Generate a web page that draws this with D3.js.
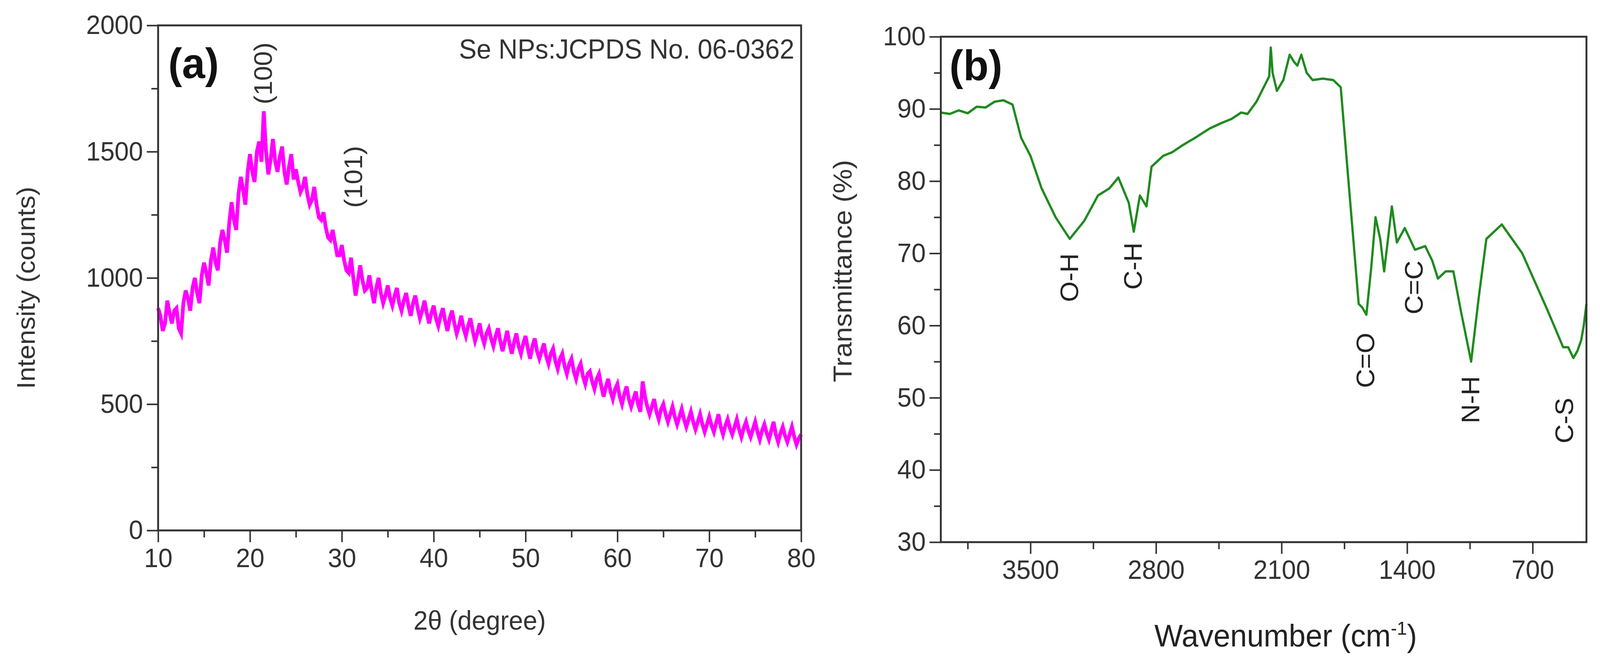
<!DOCTYPE html>
<html><head><meta charset="utf-8">
<script src="https://cdn.jsdelivr.net/npm/d3@7"></script>
<style>html,body{margin:0;background:#fff;overflow:hidden;width:100%;height:100%}svg{display:block;width:100vw;height:100vh}text{font-family:"Liberation Sans",Arial,sans-serif}</style>
</head><body>
<svg id="c" viewBox="0 0 4250 1700" preserveAspectRatio="none"></svg>
<script>
// ---- Panel (a) XRD: values at 10, 10.5, ... 80 and at 10.25, 10.75, ... 79.75
const xrdStart = 10, xrdStep = 0.5;
const xrdCounts = [880,790,910,820,880,780,950,870,1000,900,1060,970,1120,1030,1190,1100,1300,1190,1400,1290,
1490,1380,1540,1660,1410,1550,1420,1520,1370,1490,1430,1340,1400,1290,1360,1240,1260,1160,1190,1090,
1130,1030,1080,930,1050,950,1010,900,1000,900,970,890,960,870,940,850,930,840,910,820,
890,810,880,790,870,780,850,770,840,750,820,740,800,730,800,710,790,700,780,700,
770,680,760,680,740,660,720,640,700,620,680,600,660,580,630,560,620,530,600,520,
580,500,570,490,550,470,530,460,520,440,500,430,490,420,480,410,470,400,460,390,
450,390,460,380,440,380,440,370,430,370,430,360,420,360,430,350,410,350,410,340,380];
const xrdCountsMid = [850,820,860,870,800,900,920,960,940,1010,1020,1070,1060,1140,1150,1220,1230,1330,1350,1420,
1420,1500,1460,1500,1470,1460,1480,1420,1440,1390,1380,1360,1330,1310,1290,1230,1200,1150,1140,1090,
1070,1020,1000,990,990,960,950,960,940,930,920,930,900,910,890,900,880,870,860,860,
840,850,830,840,820,810,800,810,790,780,770,780,760,770,750,750,740,745,730,740,
720,730,710,710,690,700,670,680,650,660,630,640,610,620,590,600,570,570,550,560,
530,540,520,520,500,590,490,490,470,480,460,460,450,450,440,440,430,430,420,420,
415,425,410,415,405,410,400,405,395,400,390,395,385,395,380,385,375,380,370,365];
const xrdXTicks = [10,20,30,40,50,60,70,80];
const xrdYTicks = [0,500,1000,1500,2000];
const xrdPeaks = [{label:"(100)", x:21.5, y:1810}, {label:"(101)", x:31.3, y:1400}];

// ---- Panel (b) FTIR
const ftirWave = [4000,3950,3900,3850,3800,3750,3700,3651,3600,3552,3500,3438,3360,3281,3200,3124,3060,3010,2952,2924,2890,2853,2825,2760,2710,2650,2582,2500,2439,2380,2325,2290,2240,2169,2160,2150,2126,2090,2055,2030,2012,1990,1960,1927,1870,1812,1770,1727,1700,1670,1650,1627,1600,1576,1550,1528,1485,1457,1413,1356,1299,1260,1228,1185,1142,1100,1043,1000,958,872,758,615,530,502,473,450,429,415,400];
const ftirT    = [89.5,89.3,89.8,89.4,90.3,90.2,91.0,91.2,90.6,86.0,83.5,79.0,75.0,72.0,74.5,78.0,79.0,80.5,77.0,73.0,78.0,76.5,82.0,83.5,84.0,85.0,86.0,87.3,88.0,88.6,89.5,89.3,91.0,94.5,98.5,95.0,92.5,94.0,97.5,96.5,96.0,97.5,95.0,94.0,94.2,94.0,93.0,80.0,72.0,63.0,62.5,61.5,68.0,75.0,72.0,67.5,76.5,71.5,73.5,70.5,71.0,69.0,66.5,67.5,67.5,62.0,55.0,64.0,72.0,74.0,70.0,62.0,57.0,57.0,55.5,56.5,58.0,60.0,63.0];
const ftirXTicks = [3500,2800,2100,1400,700];
const ftirYTicks = [30,40,50,60,70,80,90,100];
const ftirBands = [
  {label:"O-H", x:3280, y:70}, {label:"C-H", x:2925, y:71.5},
  {label:"C=O", x:1630, y:59}, {label:"C=C", x:1360, y:69},
  {label:"N-H", x:1043, y:53}, {label:"C-S", x:520, y:50}
];

const svg = d3.select("#c");
const axisCol = "#333", tickFont = 68;

function frame(g, x, y, xMajor, xMinor, yMajor, yMinor) {
  const [x0,x1] = x.range(), [y0,y1] = y.range();
  const parts = [
    g.append("g").attr("transform",`translate(0,${y0})`).call(d3.axisBottom(x).tickValues(xMinor).tickSize(18).tickFormat("")),
    g.append("g").attr("transform",`translate(0,${y0})`).call(d3.axisBottom(x).tickValues(xMajor).tickSize(30).tickPadding(16).tickFormat(d3.format("d"))),
    g.append("g").attr("transform",`translate(${x0},0)`).call(d3.axisLeft(y).tickValues(yMinor).tickSize(18).tickFormat("")),
    g.append("g").attr("transform",`translate(${x0},0)`).call(d3.axisLeft(y).tickValues(yMajor).tickSize(30).tickPadding(10).tickFormat(d3.format("d")))
  ];
  parts.forEach(a=>{
    a.selectAll("path").remove();
    a.selectAll("line").attr("stroke",axisCol).attr("stroke-width",4);
    a.selectAll("text").attr("font-size",tickFont).attr("fill",axisCol).attr("font-family","Liberation Sans, Arial, sans-serif");
  });
  g.append("rect").attr("x",x0).attr("y",y1).attr("width",x1-x0).attr("height",y0-y1)
    .attr("fill","none").attr("stroke",axisCol).attr("stroke-width",5);
}

// ---- Panel (a)
{
  const g = svg.append("g");
  const x = d3.scaleLinear().domain([10,80]).range([420,2128]);
  const y = d3.scaleLinear().domain([0,2000]).range([1358,65]);
  const pts = [];
  xrdCounts.forEach((c,i)=>{
    pts.push([xrdStart+i*xrdStep, c]);
    if (i < xrdCountsMid.length) pts.push([xrdStart+i*xrdStep+xrdStep/2, xrdCountsMid[i]]);
  });
  g.append("path").datum(pts)
    .attr("d", d3.line().x(d=>x(d[0])).y(d=>y(d[1])))
    .attr("fill","none").attr("stroke","#ff00ff").attr("stroke-width",10).attr("stroke-linejoin","miter");
  frame(g, x, y, xrdXTicks, d3.range(15,80,10), xrdYTicks, d3.range(250,2000,500));
  g.append("text").attr("x",1274).attr("y",1612).attr("text-anchor","middle").attr("font-size",68).attr("fill",axisCol).text("2θ (degree)");
  g.append("text").attr("transform","translate(92,737) rotate(-90)").attr("text-anchor","middle").attr("font-size",68).attr("fill",axisCol).text("Intensity (counts)");
  g.append("text").attr("x",447).attr("y",200).attr("font-size",110).attr("font-weight","bold").attr("fill","#111").attr("font-family","Open Sans, sans-serif").text("(a)");
  g.append("text").attr("x",2110).attr("y",150).attr("text-anchor","end").attr("font-size",70).attr("fill",axisCol).text("Se NPs:JCPDS No. 06-0362");
  xrdPeaks.forEach(p=>{
    g.append("text").attr("transform",`translate(${x(p.x)+22},${y(p.y)}) rotate(-90)`).attr("text-anchor","middle")
      .attr("font-size",68).attr("fill",axisCol).text(p.label);
  });
}

// ---- Panel (b)
{
  const g = svg.append("g");
  const x = d3.scaleLinear().domain([4000,400]).range([2499,4214]);
  const y = d3.scaleLinear().domain([30,100]).range([1388,94]);
  const pts = ftirWave.map((w,i)=>[w, ftirT[i]]);
  g.append("path").datum(pts)
    .attr("d", d3.line().x(d=>x(d[0])).y(d=>y(d[1])))
    .attr("fill","none").attr("stroke","#1f8a1f").attr("stroke-width",6).attr("stroke-linejoin","round");
  frame(g, x, y, ftirXTicks, [3850,3150,2450,1750,1050], ftirYTicks, d3.range(35,100,10));
  g.append("text").attr("x",3415).attr("y",1655).attr("text-anchor","middle").attr("font-size",80).attr("fill","#222")
    .html('Wavenumber (cm<tspan dy="-30" font-size="48">-1</tspan><tspan dy="30">)</tspan>');
  g.append("text").attr("transform","translate(2262,694) rotate(-90)").attr("text-anchor","middle").attr("font-size",70).attr("fill",axisCol).text("Transmittance (%)");
  g.append("text").attr("x",2522).attr("y",205).attr("font-size",110).attr("font-weight","bold").attr("fill","#111").attr("font-family","Open Sans, sans-serif").text("(b)");
  ftirBands.forEach(b=>{
    g.append("text").attr("transform",`translate(${x(b.x)+22},${y(b.y)}) rotate(-90)`).attr("text-anchor","end")
      .attr("font-size",68).attr("fill","#222").text(b.label);
  });
}
</script></body></html>
